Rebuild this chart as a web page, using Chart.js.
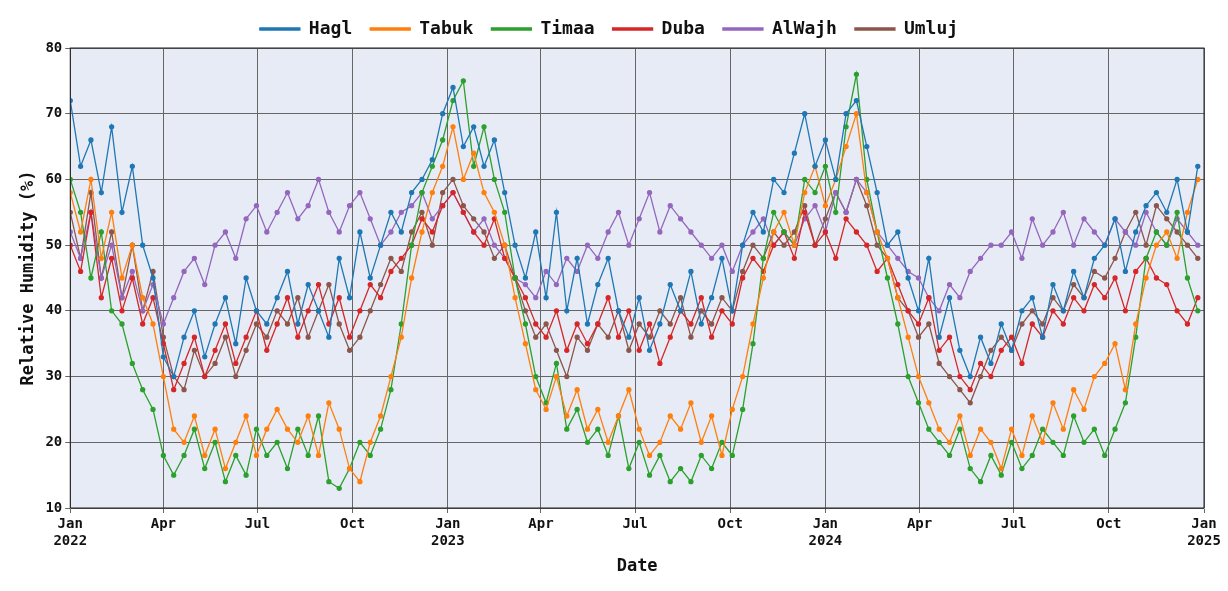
<!DOCTYPE html>
<html>
<head>
<meta charset="utf-8">
<script src="https://cdn.jsdelivr.net/npm/chart.js@4.4.1/dist/chart.umd.min.js"></script>
<style>
  html, body { margin: 0; padding: 0; background: #fff; }
  #wrap { width: 1228px; height: 591px; }
</style>
</head>
<body>
<div id="wrap"><canvas id="chart"></canvas></div>
<script>
// -------- DATA (one sample every 10 days from 2022-01-01) --------
const startDay = Date.UTC(2022, 0, 1);
const stepDays = 10;

const hagl = [72,62,66,58,68,55,62,50,45,33, 30,36,40,33,38,42,35,45,40,38,
  42,46,38,44,40,36,48,42,52,45, 50,55,52,58,60,63,70,74,65,68,
  62,66,58,50,45,52,42,55,40,48, 38,44,48,40,36,42,34,38,44,40,
  46,38,42,48,40,50,55,52,60,58, 64,70,62,66,60,70,72,65,58,50,
  52,45,40,48,36,42,34,30,36,32, 38,34,40,42,36,44,40,46,42,48,
  50,54,46,52,56,58,55,60,52,62];
const tabuk = [58,52,60,48,55,45,50,42,38,30, 22,20,24,18,22,16,20,24,18,22,
  25,22,20,24,18,26,22,16,14,20, 24,30,36,45,52,58,62,68,60,64,
  58,55,50,42,35,28,25,30,24,28, 22,25,20,24,28,22,18,20,24,22,
  26,20,24,18,25,30,38,45,52,55, 50,58,62,56,60,65,70,58,52,48,
  42,36,30,26,22,20,24,18,22,20, 16,22,18,24,20,26,22,28,25,30,
  32,35,28,38,45,50,52,48,55,60];
const timaa = [60,55,45,52,40,38,32,28,25,18, 15,18,22,16,20,14,18,15,22,18,
  20,16,22,18,24,14,13,16,20,18, 22,28,38,50,58,62,66,72,75,62,
  68,60,55,45,38,30,26,32,22,25, 20,22,18,24,16,20,15,18,14,16,
  14,18,16,20,18,25,35,48,55,52, 50,60,58,62,55,68,76,60,52,45,
  38,30,26,22,20,18,22,16,14,18, 15,20,16,18,22,20,18,24,20,22,
  18,22,26,36,48,52,50,55,45,40];
const duba = [50,46,55,42,48,40,45,38,42,35, 28,32,36,30,34,38,32,36,40,34,
  38,42,36,40,44,38,42,36,40,44, 42,46,48,50,54,52,56,58,55,52,
  50,54,48,45,42,38,36,40,34,38, 35,38,42,36,40,34,38,32,36,40,
  38,42,36,40,38,45,48,46,50,52, 48,55,50,52,48,54,52,50,46,48,
  44,40,38,42,34,36,30,28,32,30, 34,36,32,38,36,40,38,42,40,44,
  42,45,40,46,48,45,44,40,38,42];
const alwajh = [52,48,55,45,50,42,46,40,44,38, 42,46,48,44,50,52,48,54,56,52,
  55,58,54,56,60,55,52,56,58,54, 50,52,55,56,58,54,56,58,55,52,
  54,50,48,45,44,42,46,44,48,46, 50,48,52,55,50,54,58,52,56,54,
  52,50,48,50,46,50,52,54,50,52, 50,54,56,52,58,55,60,58,52,50,
  48,46,45,42,40,44,42,46,48,50, 50,52,48,54,50,52,55,50,54,52,
  50,54,52,50,55,52,50,54,52,50];
const umluj = [55,48,58,45,52,42,50,40,46,36, 30,28,34,30,32,36,30,34,38,36,
  40,38,42,36,40,44,38,34,36,40, 44,48,46,52,55,50,58,60,56,54,
  52,48,50,45,40,36,38,34,30,36, 34,38,36,40,34,38,36,40,38,42,
  36,40,38,42,40,46,50,48,52,50, 52,56,50,54,58,55,60,56,50,48,
  42,40,36,38,32,30,28,26,30,34, 36,34,38,40,38,42,40,44,42,46,
  45,48,52,55,50,56,54,52,50,48];

const seriesNames = ["Hagl", "Tabuk", "Timaa", "Duba", "AlWajh", "Umluj"];
const seriesValues = [hagl, tabuk, timaa, duba, alwajh, umluj];
const seriesColors = ["#1f77b4", "#ff7f0e", "#2ca02c", "#d62728", "#9467bd", "#8c564b"];
const monthNames = ["Jan", "Feb", "Mar", "Apr", "May", "Jun", "Jul", "Aug", "Sep", "Oct", "Nov", "Dec"];

const DAY = 24 * 60 * 60 * 1000;
const font = "'DejaVu Sans Mono', monospace";

// -------- DATASETS --------
const datasets = seriesNames.map((name, s) => ({
    label: name,
    data: seriesValues[s].map((v, i) => ({ x: startDay + i * stepDays * DAY, y: v })),
    borderColor: seriesColors[s],
    backgroundColor: seriesColors[s],
    borderWidth: 1.3,
    pointRadius: 2,
    pointHoverRadius: 2,
    tension: 0
}));

// quarter ticks Jan 2022 .. Jan 2025
const quarterTicks = [];
for (let y = 2022; y <= 2025; y++) {
    for (let m = 0; m < 12; m += 3) {
        if (y === 2025 && m > 0) break;
        quarterTicks.push(Date.UTC(y, m, 1));
    }
}

const plotBg = {
    id: "plotBg",
    beforeDraw(chart) {
        const { ctx, chartArea: a } = chart;
        ctx.save();
        ctx.fillStyle = "#e6ebf5";
        ctx.fillRect(a.left, a.top, a.right - a.left, a.bottom - a.top);
        ctx.restore();
    },
    afterDraw(chart) {
        const { ctx, chartArea: a } = chart;
        ctx.save();
        ctx.strokeStyle = "#222";
        ctx.lineWidth = 1;
        ctx.strokeRect(a.left, a.top, a.right - a.left, a.bottom - a.top);
        ctx.restore();
    }
};

new Chart(document.getElementById("chart"), {
    type: "line",
    data: { datasets },
    plugins: [plotBg],
    options: {
        responsive: true,
        maintainAspectRatio: false,
        animation: false,
        layout: { padding: { left: 14, right: 24, top: 2, bottom: 10 } },
        plugins: {
            legend: {
                position: "top",
                labels: {
                    font: { family: font, size: 18, weight: "bold" },
                    color: "#111",
                    boxWidth: 40,
                    boxHeight: 2,
                    padding: 18
                }
            },
            tooltip: { enabled: false }
        },
        scales: {
            x: {
                type: "linear",
                min: Date.UTC(2022, 0, 1),
                max: Date.UTC(2025, 0, 1),
                afterBuildTicks: axis => { axis.ticks = quarterTicks.map(v => ({ value: v })); },
                ticks: {
                    autoSkip: false,
                    maxRotation: 0,
                    font: { family: font, size: 14, weight: "bold" },
                    color: "#111"
                    ,
                    callback: value => {
                        const d = new Date(value);
                        const m = monthNames[d.getUTCMonth()];
                        return d.getUTCMonth() === 0 ? [m, String(d.getUTCFullYear())] : m;
                    }
                },
                grid: { color: "#666", lineWidth: 1, drawTicks: true, tickLength: 5 },
                title: { display: true, text: "Date", font: { family: font, size: 17, weight: "bold" }, color: "#111" }
            },
            y: {
                min: 10,
                max: 80,
                ticks: {
                    stepSize: 10,
                    font: { family: font, size: 14, weight: "bold" },
                    color: "#111"
                },
                grid: { color: "#666", lineWidth: 1, tickLength: 5 },
                title: { display: true, text: "Relative Humidity (%)", font: { family: font, size: 17, weight: "bold" }, color: "#111" }
            }
        }
    }
});
</script>
</body>
</html>
